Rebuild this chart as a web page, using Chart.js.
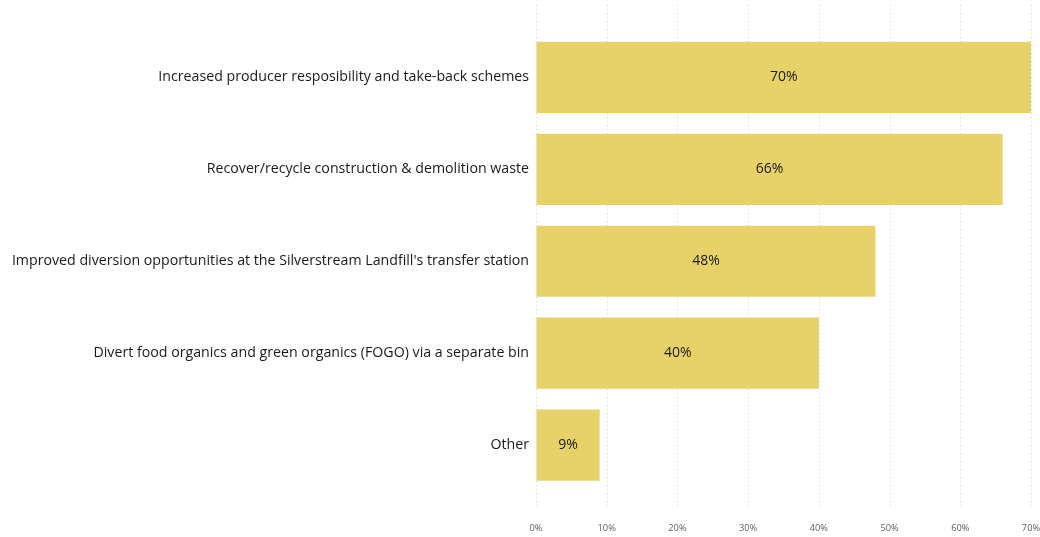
<!DOCTYPE html>
<html>
<head>
<meta charset="utf-8">
<script src="https://cdn.jsdelivr.net/npm/chart.js@4"></script>
<style>
  html, body { margin: 0; padding: 0; background: #fff; overflow: hidden; }
  canvas { display: block; }
</style>
</head>
<body>
<canvas id="chart" width="1040" height="537"></canvas>
<script>
// Survey responses: preferred waste minimisation initiatives
const categories = [
    'Increased producer resposibility and take-back schemes',
    'Recover/recycle construction & demolition waste',
    "Improved diversion opportunities at the Silverstream Landfill's transfer station",
    'Divert food organics and green organics (FOGO) via a separate bin',
    'Other'
];
const percentages = [70, 66, 48, 40, 9];
const tickValues = [0, 10, 20, 30, 40, 50, 60, 70];

const FONT = '"Open Sans", "Noto Sans", sans-serif';
const BAR_COLOR = '#E7D26A';

// dotted vertical guides that run past the plot area, as in the original report
const gridPlugin = {
    id: 'dottedGrid',
    beforeDatasetsDraw(chart) {
        const ctx = chart.ctx;
        const x = chart.scales.x;
        ctx.save();
        ctx.strokeStyle = '#d0d0d0';
        ctx.lineWidth = 1;
        ctx.setLineDash([1, 3]);
        tickValues.forEach(v => {
            const px = Math.round(x.getPixelForValue(v)) + 0.5;
            ctx.beginPath();
            ctx.moveTo(px, 5);
            ctx.lineTo(px, 508);
            ctx.stroke();
        });
        ctx.restore();
    }
};

// value text centred on each bar
const valueLabels = {
    id: 'valueLabels',
    afterDatasetsDraw(chart) {
        const ctx = chart.ctx;
        const meta = chart.getDatasetMeta(0);
        ctx.save();
        ctx.fillStyle = '#1b1a19';
        ctx.font = '14px ' + FONT;
        ctx.textAlign = 'center';
        ctx.textBaseline = 'middle';
        meta.data.forEach((bar, i) => {
            const cx = (bar.x + bar.base) / 2;
            ctx.fillText(percentages[i] + '%', cx, bar.y);
        });
        ctx.restore();
    }
};

new Chart(document.getElementById('chart'), {
    type: 'bar',
    data: {
        labels: categories,
        datasets: [{
            data: percentages,
            backgroundColor: BAR_COLOR,
            borderWidth: 0,
            barPercentage: 0.775,
            categoryPercentage: 1
        }]
    },
    plugins: [gridPlugin, valueLabels],
    options: {
        indexAxis: 'y',
        responsive: false,
        animation: false,
        layout: { padding: { top: 31.5, right: 9, bottom: 0, left: 0 } },
        plugins: {
            legend: { display: false },
            tooltip: { enabled: false }
        },
        scales: {
            x: {
                min: 0,
                max: 70,
                // invisible tick marks just push the labels down below the plot
                grid: { display: true, color: 'transparent', drawOnChartArea: false, drawTicks: true, tickLength: 32, tickColor: 'transparent' },
                border: { display: false },
                afterBuildTicks: s => { s.ticks = tickValues.map(v => ({ value: v })); },
                afterFit: s => { s.height = 46; s.paddingRight = 9; s.paddingLeft = 0; },
                ticks: {
                    padding: 0,
                    color: '#605E5C',
                    font: { family: FONT, size: 9.3 },
                    maxRotation: 0,
                    callback: v => v + '%'
                }
            },
            y: {
                grid: { display: false, drawTicks: false },
                border: { display: false },
                afterFit: s => { s.width = 536; s.paddingTop = 0; s.paddingBottom = 0; },
                ticks: {
                    padding: 7,
                    color: '#1b1a19',
                    font: { family: FONT, size: 14.2 }
                }
            }
        }
    }
});
</script>
</body>
</html>
